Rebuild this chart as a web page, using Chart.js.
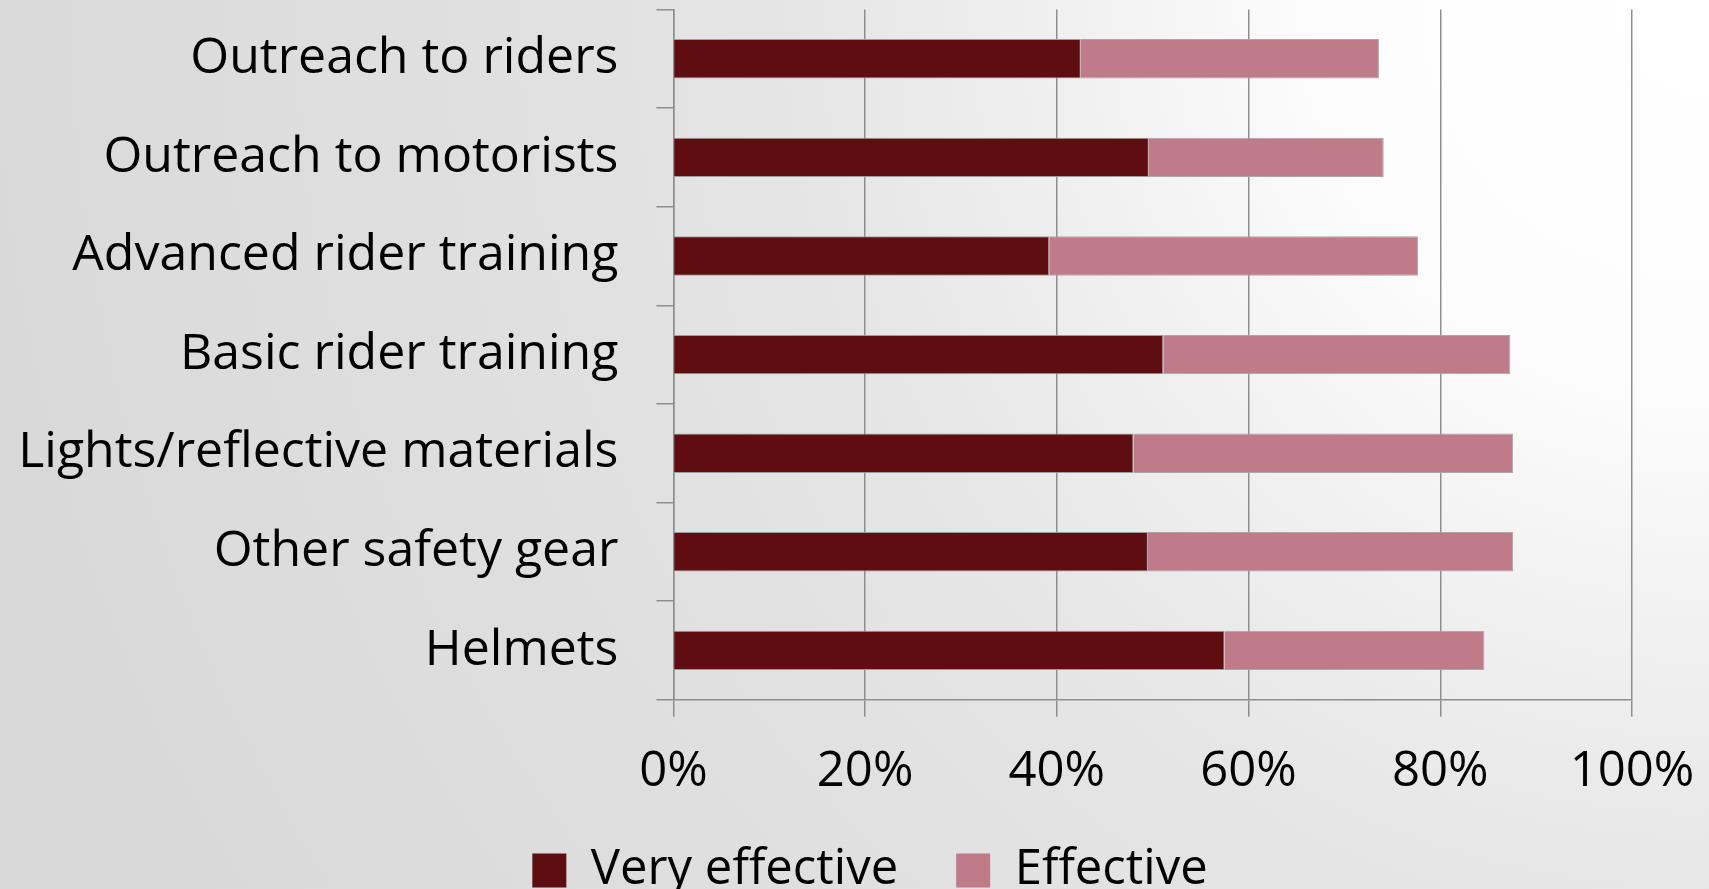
<!DOCTYPE html>
<html>
<head>
<meta charset="utf-8">
<script src="https://cdn.jsdelivr.net/npm/chart.js@4/dist/chart.umd.min.js"></script>
<style>
  html, body { margin: 0; padding: 0; }
  body {
    width: 1709px; height: 889px; overflow: hidden;
    background: radial-gradient(circle at 100% 0%, #ffffff 0px, #fdfdfd 380px, #f0f0f0 650px, #e6e6e6 900px, #e1e1e1 1150px, #d9d9d9 1750px);
  }
  #wrap { width: 1709px; height: 889px; overflow: hidden; }
</style>
</head>
<body>
<div id="wrap"><canvas id="chart" width="1709" height="919"></canvas></div>
<script>
// --- Data ---
const categories = [
  'Outreach to riders',
  'Outreach to motorists',
  'Advanced rider training',
  'Basic rider training',
  'Lights/reflective materials',
  'Other safety gear',
  'Helmets'
];
const veryEffective = [42.5, 49.6, 39.2, 51.1, 48.0, 49.5, 57.5];
const effective = [31.1, 24.5, 38.5, 36.2, 39.6, 38.1, 27.1];
const tickValues = [0, 20, 40, 60, 80, 100];

// --- Style ---
const FONT = { family: '"Open Sans", sans-serif', size: 49 };
const CAT_FONT = { family: '"Open Sans", sans-serif', size: 50 };
const GRID = '#8e8e8e';

// legend sits right of the canvas centre and close under the tick labels
const legendShift = {
  id: 'legendShift',
  afterLayout(chart) {
    const lg = chart.legend;
    lg.left += 54;
    lg.right += 54;
    const dy = 788 - lg.top;
    lg.top += dy;
    lg.bottom += dy;
  }
};

const ctx = document.getElementById('chart').getContext('2d');
new Chart(ctx, {
  type: 'bar',
  data: {
    labels: categories,
    datasets: [
      {
        label: 'Very effective',
        data: veryEffective,
        backgroundColor: '#5e0e10',
        borderColor: '#9c9c9c',
        borderWidth: 1
      },
      {
        label: 'Effective',
        data: effective,
        backgroundColor: '#bf7b88',
        borderColor: '#a8a8a8',
        borderWidth: 1
      }
    ]
  },
  plugins: [legendShift],
  options: {
    indexAxis: 'y',
    responsive: false,
    animation: false,
    categoryPercentage: 1,
    barPercentage: 0.4,
    layout: { padding: { top: 9.5, left: 0, right: 77, bottom: 0 } },
    scales: {
      x: {
        stacked: true,
        min: 0,
        max: 100,
        afterBuildTicks: (scale) => { scale.ticks = tickValues.map(v => ({ value: v })); },
        afterFit: (scale) => {
          scale.height = 102.3;
          scale.paddingLeft = 0;
          scale.paddingRight = 0;
        },
        ticks: {
          color: '#000',
          font: FONT,
          padding: 26,
          callback: (v) => v + '%'
        },
        grid: { color: GRID, lineWidth: 1.5, tickLength: 17, tickColor: GRID },
        border: { color: GRID, width: 1.5 }
      },
      y: {
        stacked: true,
        afterFit: (scale) => {
          scale.width = 673.4;
          scale.paddingTop = 0;
          scale.paddingBottom = 0;
        },
        ticks: { color: '#000', font: CAT_FONT, padding: 38 },
        grid: { offset: true, drawOnChartArea: false, tickLength: 17, tickColor: GRID, lineWidth: 1.5 },
        border: { color: GRID, width: 1.5 }
      }
    },
    plugins: {
      tooltip: { enabled: false },
      legend: {
        position: 'bottom',
        labels: {
          color: '#000',
          font: FONT,
          boxWidth: 34,
          boxHeight: 34,
          padding: 58,
          generateLabels: (chart) => Chart.defaults.plugins.legend.labels.generateLabels(chart)
            .map(item => Object.assign(item, { lineWidth: 0 }))
        }
      }
    }
  }
});
</script>
</body>
</html>
